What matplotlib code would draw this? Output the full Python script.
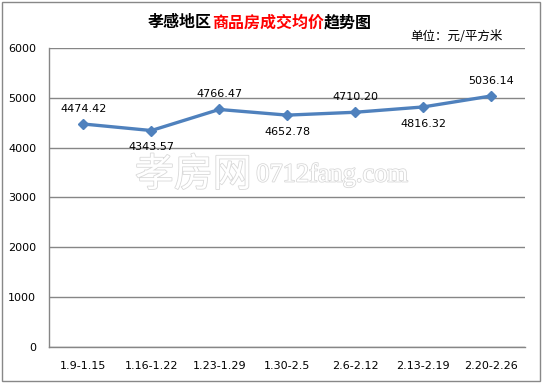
import matplotlib.pyplot as plt
import matplotlib.patheffects as pe
from matplotlib.patches import Rectangle

plt.rcParams['font.family'] = ['DejaVu Sans', 'Noto Sans CJK SC']

weeks = ['1.9-1.15', '1.16-1.22', '1.23-1.29', '1.30-2.5', '2.6-2.12', '2.13-2.19', '2.20-2.26']
prices = [4474.42, 4343.57, 4766.47, 4652.78, 4710.20, 4816.32, 5036.14]
label_above = [True, False, True, False, True, False, True]
yticks = [0, 1000, 2000, 3000, 4000, 5000, 6000]

fig = plt.figure(figsize=(5.42, 3.83), dpi=100)
ax = fig.add_axes([0.0913, 0.094, 0.877, 0.7807])

# outer chart border
fig.patches.append(Rectangle((0.003, 0.004), 0.993, 0.992, transform=fig.transFigure,
                             fill=False, edgecolor='#888888', linewidth=1))

# watermark
ax.text(0.18, 0.575, '孝房网', transform=ax.transAxes, fontsize=28, family='Noto Sans CJK SC',
        color='white', va='center', ha='left', zorder=0,
        path_effects=[pe.withStroke(linewidth=1.2, foreground='#d9d9d9')])
ax.text(0.435, 0.575, '0712fang.com', transform=ax.transAxes, fontsize=19, family='Liberation Serif',
        color='white', va='center', ha='left', zorder=0,
        path_effects=[pe.withStroke(linewidth=1.2, foreground='#d9d9d9')])

x = list(range(len(weeks)))
ax.plot(x, prices, color='#4F81BD', linewidth=2.4, marker='D', markersize=5.5, zorder=3)

for xi, p, up in zip(x, prices, label_above):
    ax.annotate(f'{p:.2f}', (xi, p), xytext=(0, 11 if up else -12), textcoords='offset points',
                ha='center', va='center', fontsize=8, color='black')

ax.set_xlim(-0.5, len(weeks) - 0.5)
ax.set_ylim(0, 6000)
ax.set_yticks(yticks)
ax.set_xticks(x)
ax.set_xticklabels(weeks)
ax.tick_params(axis='both', length=0, labelsize=8)
ax.tick_params(axis='y', pad=9.5)
ax.tick_params(axis='x', pad=10)
ax.grid(axis='y', color='#868686', linewidth=1)
ax.set_axisbelow(True)
for s in ['top', 'right']:
    ax.spines[s].set_visible(False)
for s in ['left', 'bottom']:
    ax.spines[s].set_color('#868686')
    ax.spines[s].set_linewidth(1)

# title in three colours
parts = [('孝感地区', 'black'), ('商品房成交均价', 'red'), ('趋势图', 'black')]
fig.canvas.draw()
r = fig.canvas.get_renderer()
texts = []
for s, c in parts:
    texts.append(fig.text(0, 0.942, s, color=c, fontsize=11.5, fontweight='bold',
                          family='Noto Sans CJK SC', va='center', ha='left'))
widths = [t.get_window_extent(r).width for t in texts]
total = sum(widths)
start = 260 - total / 2
for t, w in zip(texts, widths):
    t.set_x(start / 542)
    start += w

fig.text(503 / 542, 0.906, '单位：元/平方米', fontsize=9, family='Noto Sans CJK SC',
         ha='right', va='center', color='black')

fig.savefig('out.png', dpi=100)
